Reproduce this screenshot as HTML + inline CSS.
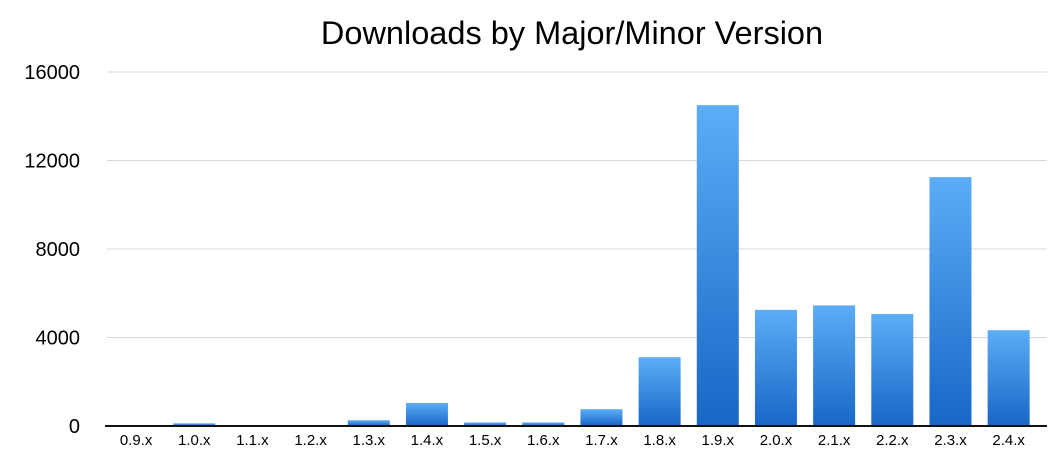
<!DOCTYPE html>
<html><head><meta charset="utf-8"><style>
body{margin:0;background:#fff;font-family:"Liberation Sans",sans-serif}
</style></head><body>
<svg id="chart" width="1052" height="462">
<defs><linearGradient id="g" x1="0" y1="0" x2="0" y2="1"><stop offset="0" stop-color="#5cadf7"/><stop offset="1" stop-color="#1866c6"/></linearGradient></defs>
<text x="572" y="44" font-size="32.5" text-anchor="middle" fill="#000">Downloads by Major/Minor Version</text>
</svg>
<script>
const categories=["0.9.x","1.0.x","1.1.x","1.2.x","1.3.x","1.4.x","1.5.x","1.6.x","1.7.x","1.8.x","1.9.x","2.0.x","2.1.x","2.2.x","2.3.x","2.4.x"];
const downloads=[10,120,10,10,260,1040,160,160,760,3110,14500,5250,5450,5060,11250,4330];
const yTicks=[0,4000,8000,12000,16000];
const svg=document.getElementById('chart');
const NS='http://www.w3.org/2000/svg';
const x0=107,x1=1047,y0=426,y1=72,yMax=16000;
const band=58.17;
const X=i=>x0+band*i;
const Y=v=>y0-(v/yMax)*(y0-y1);
function mk(t,a){const e=document.createElementNS(NS,t);for(const k in a)e.setAttribute(k,a[k]);svg.appendChild(e);return e;}
yTicks.forEach(v=>{
  if(v>0){const l=mk('line',{x1:x0,x2:x1,y1:Y(v),y2:Y(v),stroke:'#d8d8d8','stroke-width':1});
  
  }
  const t=mk('text',{x:80,y:Y(v)+7,'font-size':20,'text-anchor':'end',fill:'#000'});t.textContent=v;
  
  
});
categories.forEach((c,i)=>{
  const bw=42,bx=X(i)+(band-bw)/2,by=Y(downloads[i]);
  const r=mk('rect',{x:bx,y:by,width:bw,height:y0-by,fill:'url(#g)'});
  
  
  const t=mk('text',{x:X(i)+band/2,y:445,'font-size':15,'text-anchor':'middle',fill:'#000'});t.textContent=c;
  
  
});
const ax=mk('line',{x1:105,x2:x1,y1:y0,y2:y0,stroke:'#111','stroke-width':2});


</script>
</body></html>
